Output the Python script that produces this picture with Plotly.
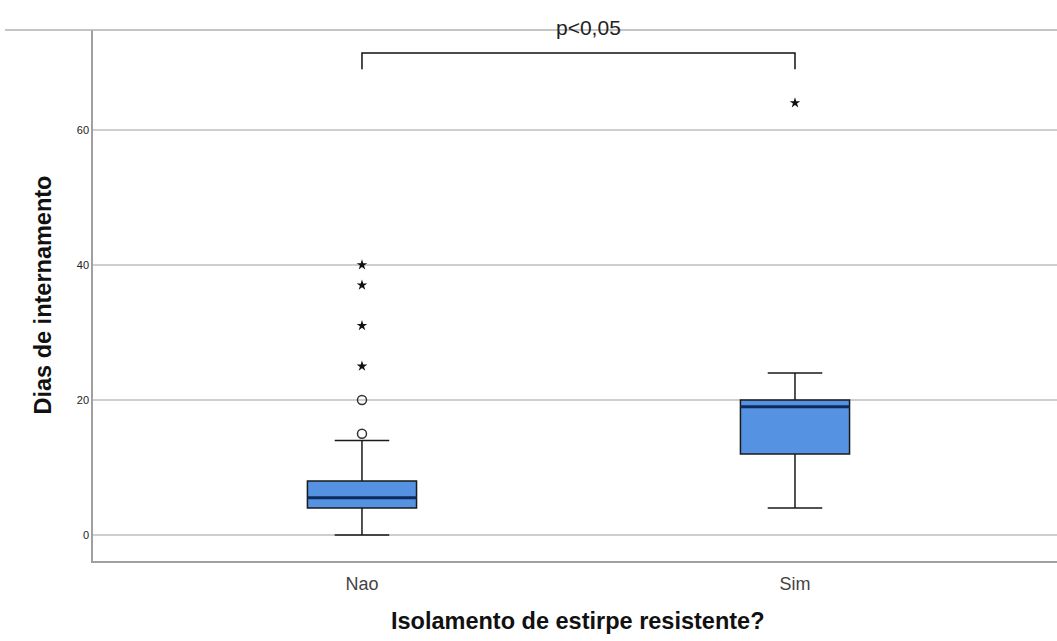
import plotly.graph_objects as go

# ---- data ----
categories = ["Nao", "Sim"]
q1 = [4, 12]
median = [5.5, 19]
q3 = [8, 20]
lower_whisker = [0, 4]
upper_whisker = [14, 24]
mild_outliers = {"Nao": [15, 20], "Sim": []}
extreme_outliers = {"Nao": [25, 31, 37, 40], "Sim": [64]}
y_ticks = [0, 20, 40, 60]
bracket_low, bracket_high = 69, 71.4
p_label = "p&lt;0,05"
x_title = "Isolamento de estirpe resistente?"
y_title = "Dias de internamento"

pos = list(range(len(categories)))
box_w = 0.252
FONT = "Liberation Sans, Arial, sans-serif"
BOX_FILL = "#5592e2"
MEDIAN_COL = "#0f2b5c"

W, H = 1057, 641
ML, MR, MT, MB = 93, 0, 30, 80
plot_h = H - MT - MB
plot_w = W - ML - MR

fig = go.Figure()

for i, c in enumerate(categories):
    fig.add_trace(go.Box(
        x=[pos[i]], q1=[q1[i]], median=[median[i]], q3=[q3[i]],
        lowerfence=[lower_whisker[i]], upperfence=[upper_whisker[i]],
        width=box_w, whiskerwidth=0.5, boxpoints=False,
        fillcolor=BOX_FILL, line=dict(color="#1a1a1a", width=1.5),
        showlegend=False, hoverinfo="skip"))
    # thick median line
    fig.add_trace(go.Scatter(
        x=[pos[i] - box_w / 2, pos[i] + box_w / 2], y=[median[i], median[i]],
        mode="lines", line=dict(color=MEDIAN_COL, width=3),
        showlegend=False, hoverinfo="skip"))
    if mild_outliers[c]:
        fig.add_trace(go.Scatter(
            x=[pos[i]] * len(mild_outliers[c]), y=mild_outliers[c], mode="markers",
            marker=dict(symbol="circle-open", size=9, color="#333333", line=dict(width=1.5)),
            showlegend=False, hoverinfo="skip"))
    if extreme_outliers[c]:
        fig.add_trace(go.Scatter(
            x=[pos[i]] * len(extreme_outliers[c]), y=extreme_outliers[c], mode="markers",
            marker=dict(symbol="star", size=8, color="#111111"),
            showlegend=False, hoverinfo="skip"))

# significance bracket
fig.add_trace(go.Scatter(
    x=[pos[0], pos[0], pos[1], pos[1]],
    y=[bracket_low, bracket_high, bracket_high, bracket_low],
    mode="lines", line=dict(color="#111111", width=1.5),
    showlegend=False, hoverinfo="skip"))

fig.update_layout(
    template="none",
    width=W, height=H,
    margin=dict(l=ML, r=MR, t=MT, b=MB, pad=0),
    paper_bgcolor="white", plot_bgcolor="white",
    font=dict(family=FONT, color="#333333"),
    xaxis=dict(
        range=[-0.6212, 1.6051], tickvals=pos, ticktext=categories,
        tickfont=dict(size=18, color="#444444"),
        showgrid=False, zeroline=False, showline=True,
        linecolor="#a0a0a0", linewidth=1.5, ticks="", ticklabelstandoff=6),
    yaxis=dict(
        range=[-3.85, 74.8], tickvals=y_ticks,
        tickfont=dict(size=11, color="#222222"),
        showgrid=True, gridcolor="#cfcfcf", gridwidth=1.5, zeroline=False,
        showline=True, linecolor="#a0a0a0", linewidth=1.5, ticks=""),
    shapes=[dict(type="line", xref="paper", yref="paper", x0=(5 - ML) / plot_w, x1=1, y0=1, y1=1,
                 line=dict(color="#b0b0b0", width=1.5))],
    annotations=[
        dict(text=p_label, x=(588 - ML) / plot_w, xref="paper", y=(H - MB - 28) / plot_h,
             yref="paper", yanchor="middle", xanchor="center",
             showarrow=False, font=dict(size=21, color="#222222")),
        dict(text=f"<b>{x_title}</b>", x=(pos[0] + pos[1]) / 2, xref="x",
             y=(H - MB - 621) / plot_h, yref="paper", yanchor="middle",
             showarrow=False, font=dict(size=23.5, color="#111111")),
        dict(text=f"<b>{y_title}</b>", x=(42 - ML) / plot_w, xanchor="center", y=0.5,
             xref="paper", yref="paper",
             textangle=-90, showarrow=False, font=dict(size=23.5, color="#111111")),
    ],
)

fig.write_html("out.html", config={"displayModeBar": False},
               post_script="document.body.style.margin='0';")
